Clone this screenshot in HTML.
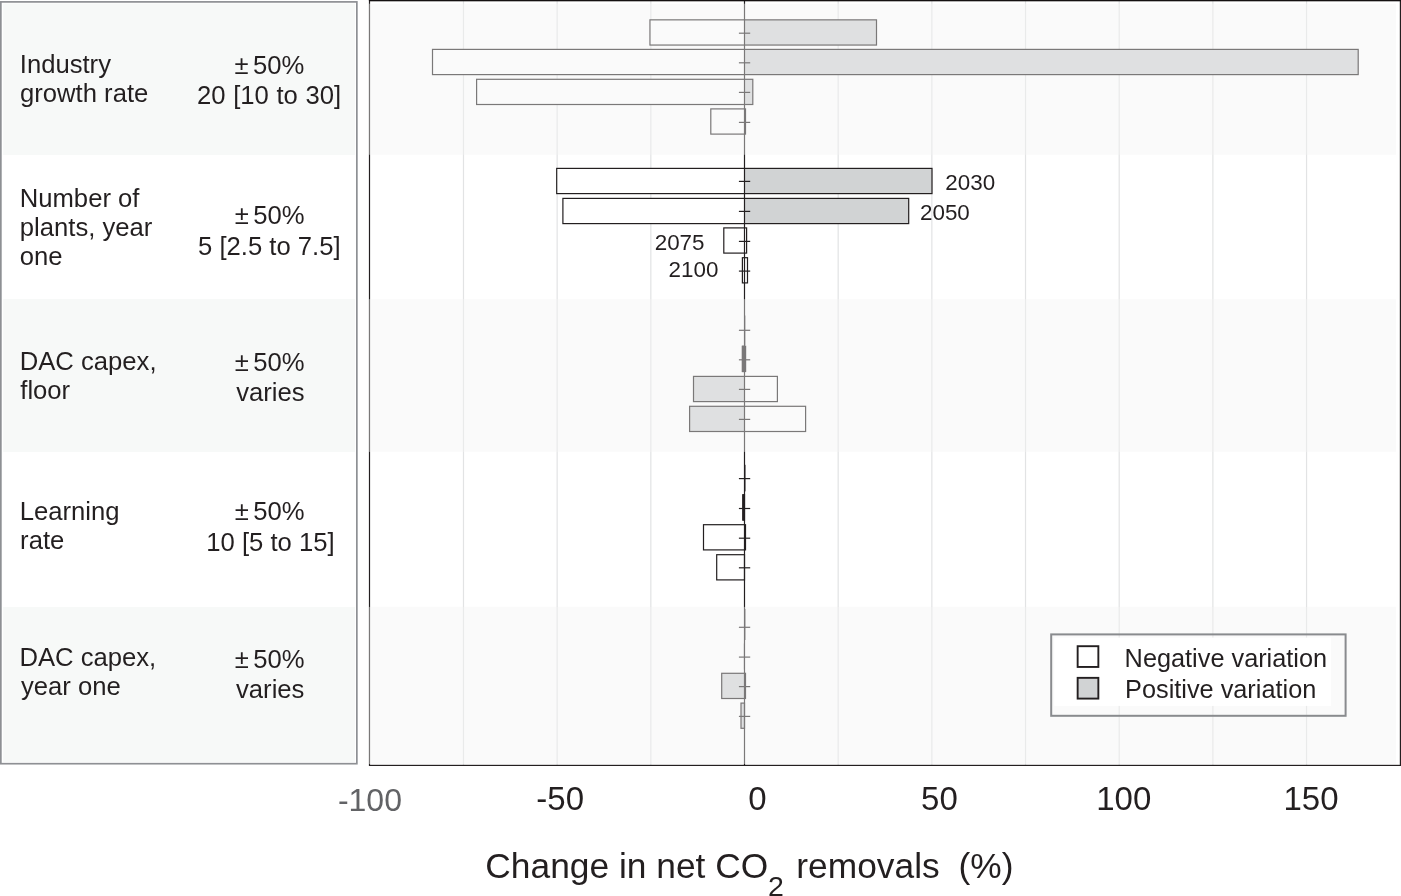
<!DOCTYPE html>
<html><head><meta charset="utf-8"><title>Sensitivity of net CO2 removals</title>
<style>
html,body{margin:0;padding:0;background:#fff;}
body{width:1401px;height:896px;overflow:hidden;position:relative;}
svg{position:absolute;left:0;top:0;display:block;will-change:transform;}
text{font-family:"Liberation Sans",sans-serif;fill:#231f20;}
.lab{font-size:25.65px;}
.yr{font-size:22.4px;}
.ax{font-size:33.0px;}
.ttl{font-size:35.33px;}
.lg{font-size:25.3px;}
</style></head><body>
<svg width="1401" height="896" viewBox="0 0 1401 896">
<rect x="0" y="0" width="1401" height="896" fill="#ffffff"/>
<g stroke="#e2e3e4" stroke-width="1.2">
<line x1="463.48" y1="1" x2="463.48" y2="765"/>
<line x1="557.15" y1="1" x2="557.15" y2="765"/>
<line x1="650.83" y1="1" x2="650.83" y2="765"/>
<line x1="838.17" y1="1" x2="838.17" y2="765"/>
<line x1="931.85" y1="1" x2="931.85" y2="765"/>
<line x1="1025.53" y1="1" x2="1025.53" y2="765"/>
<line x1="1119.2" y1="1" x2="1119.2" y2="765"/>
<line x1="1212.88" y1="1" x2="1212.88" y2="765"/>
<line x1="1306.55" y1="1" x2="1306.55" y2="765"/>
</g>
<g stroke="#231f20" stroke-width="1.2">
<rect x="649.95" y="19.85" width="94.55" height="25.2" fill="#ffffff" stroke="none"/>
<rect x="744.5" y="19.85" width="132" height="25.2" fill="#d1d3d4" stroke="none"/>
<rect x="649.95" y="19.85" width="226.55" height="25.2" fill="none"/>
<rect x="432.5" y="49.4" width="312" height="25.2" fill="#ffffff" stroke="none"/>
<rect x="744.5" y="49.4" width="613.7" height="25.2" fill="#d1d3d4" stroke="none"/>
<rect x="432.5" y="49.4" width="925.7" height="25.2" fill="none"/>
<rect x="476.6" y="79.3" width="267.9" height="25.2" fill="#ffffff" stroke="none"/>
<rect x="744.5" y="79.3" width="8.3" height="25.2" fill="#d1d3d4" stroke="none"/>
<rect x="476.6" y="79.3" width="276.2" height="25.2" fill="none"/>
<rect x="710.8" y="108.9" width="33.7" height="25.2" fill="#ffffff" stroke="none"/>
<rect x="744.5" y="108.9" width="1" height="25.2" fill="#ffffff" stroke="none"/>
<rect x="710.8" y="108.9" width="34.7" height="25.2" fill="none"/>
<rect x="556.7" y="168.4" width="187.8" height="25.2" fill="#ffffff" stroke="none"/>
<rect x="744.5" y="168.4" width="187.5" height="25.2" fill="#d1d3d4" stroke="none"/>
<rect x="556.7" y="168.4" width="375.3" height="25.2" fill="none"/>
<rect x="562.9" y="198.4" width="181.6" height="25.2" fill="#ffffff" stroke="none"/>
<rect x="744.5" y="198.4" width="164.2" height="25.2" fill="#d1d3d4" stroke="none"/>
<rect x="562.9" y="198.4" width="345.8" height="25.2" fill="none"/>
<rect x="723.8" y="227.9" width="20.7" height="25.2" fill="#ffffff" stroke="none"/>
<rect x="744.5" y="227.9" width="2.1" height="25.2" fill="#ffffff" stroke="none"/>
<rect x="723.8" y="227.9" width="22.8" height="25.2" fill="none"/>
<rect x="742.4" y="257.7" width="2.1" height="25.2" fill="#ffffff" stroke="none"/>
<rect x="744.5" y="257.7" width="3" height="25.2" fill="#ffffff" stroke="none"/>
<rect x="742.4" y="257.7" width="5.1" height="25.2" fill="none"/>
<rect x="742.3" y="346.3" width="2.2" height="25.2" fill="#d1d3d4" stroke="none"/>
<rect x="744.5" y="346.3" width="1.1" height="25.2" fill="#d1d3d4" stroke="none"/>
<rect x="742.3" y="346.3" width="3.3" height="25.2" fill="none"/>
<rect x="693.5" y="376.4" width="51" height="25.2" fill="#d1d3d4" stroke="none"/>
<rect x="744.5" y="376.4" width="32.9" height="25.2" fill="#ffffff" stroke="none"/>
<rect x="693.5" y="376.4" width="83.9" height="25.2" fill="none"/>
<rect x="689.6" y="406.3" width="54.9" height="25.2" fill="#d1d3d4" stroke="none"/>
<rect x="744.5" y="406.3" width="61.1" height="25.2" fill="#ffffff" stroke="none"/>
<rect x="689.6" y="406.3" width="116" height="25.2" fill="none"/>
<rect x="742.8" y="494.8" width="1.7" height="25.2" fill="#ffffff" stroke="none"/>
<rect x="742.8" y="494.8" width="1.7" height="25.2" fill="none"/>
<rect x="703.5" y="524.7" width="41" height="25.2" fill="#ffffff" stroke="none"/>
<rect x="744.5" y="524.7" width="1" height="25.2" fill="#ffffff" stroke="none"/>
<rect x="703.5" y="524.7" width="42" height="25.2" fill="none"/>
<rect x="716.7" y="554.7" width="27.8" height="25.2" fill="#ffffff" stroke="none"/>
<rect x="716.7" y="554.7" width="27.8" height="25.2" fill="none"/>
<rect x="721.7" y="673.3" width="22.8" height="25.2" fill="#d1d3d4" stroke="none"/>
<rect x="744.5" y="673.3" width="1" height="25.2" fill="#d1d3d4" stroke="none"/>
<rect x="721.7" y="673.3" width="23.8" height="25.2" fill="none"/>
<rect x="741" y="703.1" width="3.5" height="25.2" fill="#d1d3d4" stroke="none"/>
<rect x="741" y="703.1" width="3.5" height="25.2" fill="none"/>
</g>
<line x1="744.5" y1="1" x2="744.5" y2="765" stroke="#231f20" stroke-width="1.2"/>
<rect x="742.1" y="345.7" width="2.6" height="26.4" fill="#231f20"/>
<rect x="742.5" y="494.2" width="2.0" height="26.4" fill="#231f20"/>
<rect x="743.9" y="643.5" width="0.9" height="26" fill="#231f20"/>
<rect x="744.5" y="464.8" width="1.0" height="26.6" fill="#231f20"/>
<rect x="744.5" y="609" width="0.9" height="31" fill="#231f20"/>
<rect x="744.5" y="315.5" width="0.8" height="30" fill="#231f20"/>
<g stroke="#231f20" stroke-width="1.2">
<line x1="738.9" y1="33.2" x2="750.2" y2="33.2"/>
<line x1="738.9" y1="62.8" x2="750.2" y2="62.8"/>
<line x1="738.9" y1="92.4" x2="750.2" y2="92.4"/>
<line x1="738.9" y1="122.4" x2="750.2" y2="122.4"/>
<line x1="738.9" y1="181.4" x2="750.2" y2="181.4"/>
<line x1="738.9" y1="211.4" x2="750.2" y2="211.4"/>
<line x1="738.9" y1="241.4" x2="750.2" y2="241.4"/>
<line x1="738.9" y1="271.1" x2="750.2" y2="271.1"/>
<line x1="738.9" y1="330.3" x2="750.2" y2="330.3"/>
<line x1="738.9" y1="359.8" x2="750.2" y2="359.8"/>
<line x1="738.9" y1="389.4" x2="750.2" y2="389.4"/>
<line x1="738.9" y1="419.4" x2="750.2" y2="419.4"/>
<line x1="738.9" y1="478.6" x2="750.2" y2="478.6"/>
<line x1="738.9" y1="508.5" x2="750.2" y2="508.5"/>
<line x1="738.9" y1="538.2" x2="750.2" y2="538.2"/>
<line x1="738.9" y1="567.8" x2="750.2" y2="567.8"/>
<line x1="738.9" y1="627.3" x2="750.2" y2="627.3"/>
<line x1="738.9" y1="657.1" x2="750.2" y2="657.1"/>
<line x1="738.9" y1="686.6" x2="750.2" y2="686.6"/>
<line x1="738.9" y1="716.4" x2="750.2" y2="716.4"/>
</g>
<text id="y2030" class="yr" x="945.37" y="189.6">2030</text>
<text id="y2050" class="yr" x="920.01" y="220.3">2050</text>
<text id="y2075" class="yr" x="654.73" y="249.9">2075</text>
<text id="y2100" class="yr" x="668.57" y="277.2">2100</text>
<rect x="369.5" y="0.5" width="1030.9" height="764.9" fill="none" stroke="#231f20" stroke-width="1.2"/>
<rect x="368.6" y="3.7" width="1027.4" height="151.1" fill="rgba(243,243,243,0.42)"/>
<rect x="368.6" y="299.1" width="1027.4" height="152.8" fill="rgba(243,243,243,0.42)"/>
<rect x="368.6" y="606.9" width="1027.4" height="157.1" fill="rgba(243,243,243,0.42)"/>
<line x1="368.9" y1="0.5" x2="1401" y2="0.5" stroke="#141011" stroke-width="1.3"/>
<rect x="1051.2" y="634.4" width="294.4" height="81.4" fill="none" stroke="#898b8e" stroke-width="2.0"/>
<rect x="1054.3" y="637.6" width="276.8" height="68.3" fill="#ffffff"/>
<rect x="1077.65" y="646.2" width="20.7" height="20.75" fill="#ffffff" stroke="#231f20" stroke-width="1.9"/>
<rect x="1077.65" y="677.85" width="20.7" height="20.75" fill="#d1d3d4" stroke="#231f20" stroke-width="1.9"/>
<rect x="3.2" y="3.5" width="351.8" height="151.5" fill="#f7f9f8"/>
<rect x="3.2" y="299.1" width="351.8" height="152.9" fill="#f7f9f8"/>
<rect x="3.2" y="606.9" width="351.8" height="155.1" fill="#f7f9f8"/>
<rect x="0.85" y="1.9" width="356" height="761.8" fill="none" stroke="#8e9094" stroke-width="1.7"/>
<text id="lneg" class="lg" x="1124.62" y="667.1">Negative variation</text>
<text id="lpos" class="lg" x="1125.05" y="698.1">Positive variation</text>
<text id="a1" class="lab" x="19.78" y="72.8">Industry</text>
<text id="a2" class="lab" x="20.02" y="101.7">growth rate</text>
<text id="b1" class="lab" x="234.52" y="73.9">±<tspan dx="4.4">50%</tspan></text>
<text id="b2" class="lab" x="197" y="104.1" style="word-spacing:0.5px">20 [10 to 30]</text>
<text id="c1" class="lab" x="19.74" y="206.9">Number of</text>
<text id="c2" class="lab" x="19.79" y="235.8">plants, year</text>
<text id="c3" class="lab" x="19.85" y="264.6">one</text>
<text id="d1" class="lab" x="234.67" y="224.3">±<tspan dx="4.4">50%</tspan></text>
<text id="d2" class="lab" x="198.02" y="254.5">5 [2.5 to 7.5]</text>
<text id="e1" class="lab" x="19.74" y="369.7">DAC capex,</text>
<text id="e2" class="lab" x="20.27" y="398.6">floor</text>
<text id="f1" class="lab" x="234.67" y="371.3">±<tspan dx="4.4">50%</tspan></text>
<text id="f2" class="lab" x="236.23" y="401.4">varies</text>
<text id="g1" class="lab" x="19.74" y="519.5">Learning</text>
<text id="g2" class="lab" x="20.12" y="548.8">rate</text>
<text id="h1" class="lab" x="234.87" y="520.2">±<tspan dx="4.4">50%</tspan></text>
<text id="h2" class="lab" x="206.25" y="550.5">10 [5 to 15]</text>
<text id="i1" class="lab" x="19.38" y="665.7">DAC capex,</text>
<text id="i2" class="lab" x="20.88" y="694.7">year one</text>
<text id="j1" class="lab" x="234.67" y="667.5">±<tspan dx="4.4">50%</tspan></text>
<text id="j2" class="lab" x="236.03" y="698.2">varies</text>
<text id="xm100" class="ax" x="337.92" y="811.3" style="fill:#626366;font-size:32.0px">-100</text>
<text id="xm50" class="ax" x="536.36" y="809.9">-50</text>
<text id="x0" class="ax" x="748.32" y="810">0</text>
<text id="x50" class="ax" x="921.1" y="810">50</text>
<text id="x100" class="ax" x="1096.18" y="810">100</text>
<text id="x150" class="ax" x="1283.47" y="810">150</text>
<text id="t1" class="ttl" x="485.37" y="877.8">Change in net CO</text>
<text id="t2" class="ttl" x="767.91" y="896.4" style="font-size:28.5px">2</text>
<text id="t3" class="ttl" x="796.33" y="877.8">removals</text>
<text id="t4" class="ttl" x="958.49" y="877.8">(%)</text>
</svg></body></html>
